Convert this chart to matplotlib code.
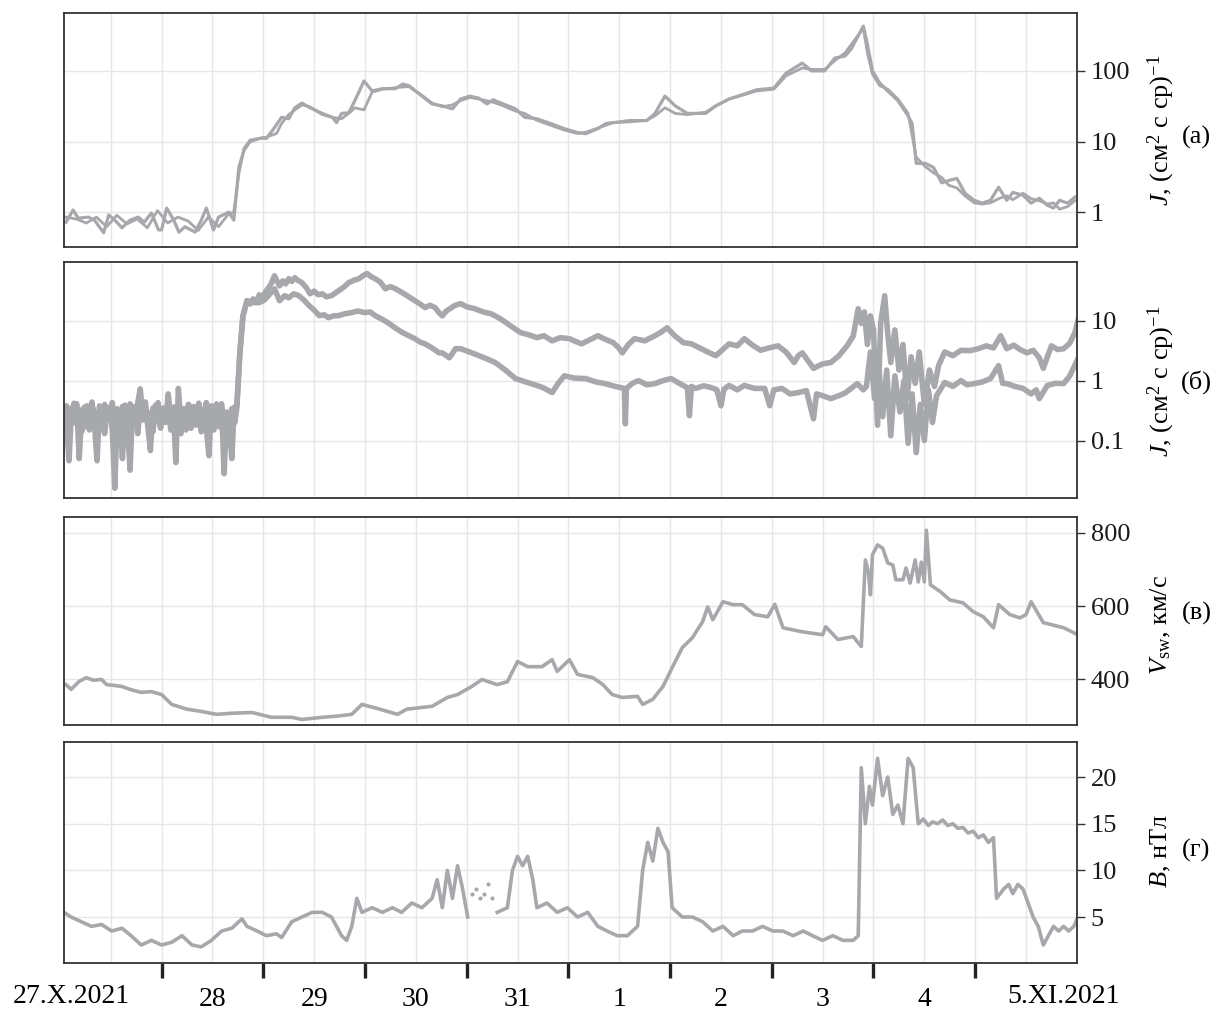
import numpy as np
import matplotlib
matplotlib.use("Agg")
import matplotlib.pyplot as plt
from matplotlib.ticker import FixedLocator, FixedFormatter, NullLocator

# time axis: days since 27.X.2021 00:00 UT

# (а) proton flux, two channels
A1_T = [0.06, 0.13, 0.18, 0.28, 0.34, 0.43, 0.48, 0.54, 0.61, 0.69, 0.77, 0.83, 0.90, 0.97, 1.00,
        1.05, 1.12, 1.17, 1.23, 1.33, 1.39, 1.44, 1.51, 1.56, 1.66, 1.71, 1.76, 1.81, 1.87, 1.99,
        2.03, 2.11, 2.18, 2.25, 2.31, 2.38, 2.46, 2.58, 2.68, 2.72, 2.77, 2.84, 2.90, 2.99, 3.07,
        3.17, 3.30, 3.37, 3.43, 3.56, 3.66, 3.76, 3.86, 3.94, 4.03, 4.12, 4.20, 4.26, 4.36, 4.48,
        4.57, 4.69, 4.80, 4.96, 5.09, 5.17, 5.29, 5.37, 5.44, 5.61, 5.77, 5.85, 5.95, 6.05, 6.17,
        6.35, 6.45, 6.58, 6.73, 6.85, 7.02, 7.14, 7.30, 7.39, 7.52, 7.62, 7.72, 7.78, 7.90, 7.94,
        7.99, 8.06, 8.14, 8.24, 8.34, 8.38, 8.42, 8.51, 8.59, 8.67, 8.74, 8.82, 8.90, 8.99, 9.07,
        9.15, 9.23, 9.31, 9.37, 9.47, 9.55, 9.63, 9.71, 9.77, 9.83, 9.91, 9.98]
A1_V = [0.72, 1.07, 0.82, 0.85, 0.77, 0.51, 0.91, 0.77, 0.60, 0.77, 0.85, 0.72, 0.97, 0.56, 0.56,
        1.14, 0.77, 0.52, 0.62, 0.52, 0.77, 1.14, 0.56, 0.85, 1.0, 0.77, 4.3, 7.5, 10, 11.3,
        11, 15.7, 22, 21, 30, 35, 30, 25, 22, 18.5, 25, 25.5, 37.8, 72, 52,
        56, 56, 65, 62, 44, 34, 32, 29, 40, 44, 41, 34, 39, 34, 29,
        22, 21, 18.5, 15.2, 13.4, 12.9, 15.2, 18, 18.5, 19.8, 19.8, 24.8, 44, 32, 25,
        25, 32, 40, 47, 54, 57, 93, 129, 100, 100, 152, 162, 203, 430, 240,
        100, 68, 52, 38, 23, 18, 4.9, 4.9, 4.3, 2.6, 2.8, 3.0, 1.85, 1.47, 1.34,
        1.47, 2.25, 1.47, 1.9, 1.74, 1.34, 1.57, 1.25, 1.14, 1.47, 1.34, 1.63]
A2_T = [0.06, 0.16, 0.26, 0.36, 0.46, 0.56, 0.66, 0.76, 0.86, 0.96, 1.06, 1.16, 1.26, 1.36, 1.46,
        1.56, 1.66, 1.71, 1.76, 1.81, 1.87, 2.03, 2.13, 2.18, 2.25, 2.31, 2.38, 2.46, 2.58, 2.68,
        2.77, 2.84, 2.90, 2.99, 3.07, 3.17, 3.30, 3.43, 3.56, 3.66, 3.76, 3.86, 3.94, 4.03, 4.12,
        4.26, 4.36, 4.48, 4.57, 4.69, 4.80, 4.96, 5.09, 5.17, 5.29, 5.44, 5.61, 5.77, 5.85, 5.95,
        6.05, 6.17, 6.35, 6.45, 6.58, 6.73, 6.85, 7.02, 7.14, 7.30, 7.39, 7.52, 7.62, 7.72, 7.90,
        7.94, 7.99, 8.06, 8.14, 8.24, 8.34, 8.42, 8.51, 8.59, 8.67, 8.74, 8.82, 8.90, 8.99, 9.07,
        9.15, 9.23, 9.31, 9.37, 9.47, 9.55, 9.63, 9.71, 9.77, 9.83, 9.91, 9.98]
A2_V = [0.85, 0.80, 0.70, 0.85, 0.62, 0.90, 0.68, 0.80, 0.60, 1.05, 0.70, 0.85, 0.75, 0.55, 0.85,
        0.62, 0.95, 1.0, 3.5, 8, 10.5, 11.5, 13, 18, 24, 28, 33, 31, 24, 22,
        21, 25, 30, 28, 50, 55, 58, 60, 45, 35, 31, 33, 38, 42, 40,
        36, 32, 27, 25, 20, 17.5, 14.5, 13, 13.5, 15.5, 18.5, 19, 20, 23, 30,
        25, 24, 26, 32, 40, 46, 52, 55, 85, 110, 105, 105, 140, 180, 400,
        180, 90, 62, 55, 40, 25, 6, 4.4, 3.6, 3.1, 2.4, 2.2, 1.7, 1.35, 1.3,
        1.35, 1.55, 1.7, 1.5, 1.85, 1.55, 1.45, 1.3, 1.35, 1.1, 1.2, 1.45]

# (б) flux, two channels; quiet interval sampled every QUIET_STEP days from QUIET_START
QUIET_START = 0.04
QUIET_STEP = 0.025
B_QUIET_HI = [0.32, 0.18, 0.046, 0.35, 0.20, 0.41, 0.05, 0.30, 0.17, 0.38, 0.22, 0.44, 0.19, 0.046,
              0.33, 0.16, 0.40, 0.24, 0.36, 0.15, 0.016, 0.34, 0.21, 0.05, 0.39, 0.18, 0.032, 0.37,
              0.20, 0.42, 0.73, 0.25, 0.38, 0.17, 0.068, 0.35, 0.22, 0.43, 0.16, 0.31, 0.20, 0.60,
              0.24, 0.36, 0.043, 0.74, 0.19, 0.34, 0.15, 0.40, 0.23, 0.37, 0.18, 0.42, 0.21, 0.33,
              0.16, 0.056, 0.38, 0.20, 0.41, 0.17, 0.35, 0.028, 0.30, 0.19, 0.05, 0.36]
B_QUIET_LO = [0.22, 0.38, 0.16, 0.27, 0.42, 0.19, 0.33, 0.14, 0.36, 0.24, 0.15, 0.40, 0.26, 0.17,
              0.38, 0.21, 0.13, 0.34, 0.23, 0.43, 0.18, 0.30, 0.14, 0.37, 0.25, 0.16, 0.41, 0.20,
              0.31, 0.13, 0.36, 0.22, 0.44, 0.18, 0.29, 0.14, 0.39, 0.24, 0.17, 0.35, 0.21, 0.42,
              0.15, 0.28, 0.37, 0.19, 0.13, 0.33, 0.24, 0.40, 0.16, 0.30, 0.21, 0.38, 0.14, 0.27,
              0.43, 0.20, 0.32, 0.15, 0.36, 0.23, 0.41, 0.18, 0.29, 0.14, 0.34, 0.25]
B_HI_T = [1.72, 1.74, 1.77, 1.80, 1.84, 1.87, 1.90, 1.93, 1.96, 1.99, 2.02, 2.05, 2.08, 2.11, 2.14,
          2.16, 2.19, 2.22, 2.25, 2.28, 2.31, 2.34, 2.38, 2.42, 2.46, 2.50, 2.54, 2.58, 2.62, 2.67,
          2.71, 2.74, 2.79, 2.84, 2.89, 2.94, 2.98, 3.02, 3.06, 3.10, 3.15, 3.20, 3.25, 3.30, 3.34,
          3.37, 3.43, 3.49, 3.54, 3.59, 3.64, 3.69, 3.72, 3.76, 3.80, 3.84, 3.88, 3.94, 4.00, 4.08,
          4.16, 4.24, 4.30, 4.36, 4.44, 4.53, 4.61, 4.69, 4.76, 4.84, 4.92, 5.01, 5.07, 5.13, 5.21,
          5.29, 5.36, 5.44, 5.49, 5.53, 5.59, 5.65, 5.75, 5.85, 5.91, 5.97, 6.05, 6.13, 6.21, 6.29,
          6.37, 6.45, 6.51, 6.58, 6.66, 6.73, 6.81, 6.89, 6.97, 7.06, 7.14, 7.22, 7.26, 7.30, 7.36,
          7.41, 7.50, 7.58, 7.66, 7.74, 7.80, 7.85,
          7.88, 7.91, 7.94, 7.97, 8.00, 8.04, 8.07, 8.11, 8.14, 8.17, 8.21, 8.25, 8.29, 8.33, 8.37,
          8.41, 8.45, 8.50, 8.55, 8.60, 8.64,
          8.70, 8.78, 8.86, 8.95, 9.03, 9.11, 9.18, 9.25, 9.31, 9.38, 9.44, 9.51, 9.57, 9.63, 9.67,
          9.71, 9.75, 9.81, 9.87, 9.93, 9.98, 10.01]
B_HI_V = [0.3, 0.4, 3, 12, 21.5, 19, 23, 20, 27, 24, 30, 35, 42, 56, 44,
          38, 46, 41, 50, 45, 52, 47, 43, 36, 28, 31, 27, 28, 25, 26,
          29, 31.6, 36, 43, 47, 50, 56, 61, 54, 50, 44, 34, 37, 34, 31,
          29, 25, 21.5, 19, 16.5, 18, 16.5, 14, 12, 14.5, 16, 17.8, 19.2, 17, 15.8,
          14, 13, 11.5, 10, 8, 6.3, 5.8, 5.2, 5.6, 4.6, 5.2, 5, 4.5, 4.1, 4.8,
          5.6, 4.9, 4.3, 3.6, 2.9, 4, 5, 4.6, 5.6, 6.4, 7.6, 5.5, 4.3, 4.1, 3.5,
          3.0, 2.6, 3.2, 4.1, 3.8, 5, 3.9, 3.2, 3.5, 3.8, 3.0, 2.0, 2.6, 2.9, 2.1,
          1.6, 1.9, 2.0, 2.6, 3.8, 5.5, 15.8,
          9, 14, 4, 12, 7, 0.18, 9, 26, 6, 2, 7, 1.5, 4, 0.5, 2.5,
          0.9, 3, 0.4, 1.5, 0.8, 1.78,
          3.0, 2.6, 3.2, 3.16, 3.4, 3.8, 3.5, 5.6, 3.4, 3.9, 3.3, 2.9, 3.2, 2.4, 1.6,
          2.5, 3.8, 3.3, 3.4, 4.2, 6.3, 10]
B_LO_T = [1.72, 1.74, 1.77, 1.80, 1.84, 1.90, 1.96, 2.01, 2.05, 2.11, 2.16, 2.21, 2.25, 2.30, 2.35,
          2.40, 2.45, 2.50, 2.55, 2.60, 2.64, 2.69, 2.74, 2.80, 2.87, 2.93, 3.00, 3.05, 3.10, 3.17,
          3.24, 3.30, 3.37, 3.43, 3.49, 3.54, 3.59, 3.66, 3.73, 3.76, 3.83, 3.89, 3.94, 4.03, 4.12,
          4.20, 4.28, 4.38, 4.48, 4.58, 4.69, 4.76, 4.84, 4.90, 4.96, 5.06, 5.17, 5.27, 5.36, 5.46,
          5.55, 5.56, 5.57, 5.63, 5.69, 5.77, 5.85, 5.93, 6.01, 6.09, 6.17, 6.19, 6.21, 6.25, 6.33,
          6.41, 6.46, 6.50, 6.53, 6.58, 6.66, 6.73, 6.83, 6.93, 6.98, 7.02, 7.10, 7.18, 7.26, 7.34,
          7.41, 7.44, 7.50, 7.58, 7.66, 7.72, 7.78, 7.84, 7.90,
          7.93, 7.97, 8.01, 8.05, 8.09, 8.13, 8.17, 8.21, 8.26, 8.30, 8.34, 8.38, 8.42, 8.46, 8.50,
          8.54, 8.58, 8.62,
          8.70, 8.78, 8.86, 8.92, 8.99, 9.07, 9.15, 9.23, 9.27, 9.31, 9.39, 9.47, 9.55, 9.60, 9.63,
          9.71, 9.79, 9.87, 9.93, 9.98, 10.01]
B_LO_V = [0.2, 0.35, 3, 12, 21.5, 20, 20, 22, 26, 34, 21.5, 26, 24, 28, 26,
          22, 17.8, 15, 12.1, 12.5, 11.2, 12, 12.1, 13, 13.6, 14.5, 13.6, 14, 12.1, 10.5,
          8.9, 7.5, 6.3, 5.6, 5, 4.4, 4.1, 3.5, 2.9, 2.9, 2.4, 3.4, 3.4, 3.0, 2.6,
          2.3, 2.0, 1.5, 1.08, 0.95, 0.83, 0.75, 0.63, 0.9, 1.2, 1.1, 1.08, 0.95, 0.89, 0.8,
          0.74, 0.19, 0.74, 0.9, 1.0, 0.85, 0.89, 1.0, 1.08, 0.9, 0.76, 0.26, 0.8, 0.74, 0.82,
          0.76, 0.7, 0.38, 0.72, 0.83, 0.7, 0.83, 0.74, 0.74, 0.38, 0.7, 0.74, 0.6, 0.63, 0.68,
          0.23, 0.6, 0.56, 0.5, 0.56, 0.62, 0.74, 0.89, 0.7,
          0.8, 3, 0.5, 2, 0.25, 1.5, 0.12, 1.2, 0.3, 1, 0.09, 0.6, 0.063, 0.4, 0.1,
          0.7, 0.2, 0.56,
          0.93, 0.8, 1.0, 0.85, 0.89, 0.95, 1.08, 1.78, 0.9, 0.89, 0.8, 0.74, 0.6, 0.7, 0.5,
          0.83, 0.9, 0.89, 1.2, 1.8, 2.3]

# (в) solar wind speed, km/s
C_T = [0.06, 0.11, 0.19, 0.26, 0.33, 0.41, 0.46, 0.53, 0.61, 0.70, 0.80, 0.90, 1.00, 1.10, 1.25,
       1.39, 1.54, 1.69, 1.89, 2.08, 2.28, 2.38, 2.58, 2.72, 2.87, 2.97, 3.12, 3.32, 3.41, 3.66,
       3.81, 3.91, 4.05, 4.15, 4.30, 4.40, 4.50, 4.60, 4.74, 4.84, 4.89, 5.01, 5.09, 5.24, 5.34,
       5.43, 5.53, 5.68, 5.73, 5.83, 5.93, 6.02, 6.12, 6.22, 6.32, 6.37, 6.42, 6.52, 6.62, 6.71,
       6.83, 6.96, 7.03, 7.11, 7.30, 7.50, 7.53, 7.65, 7.80, 7.88, 7.92, 7.95, 7.97, 7.99, 8.04,
       8.09, 8.14, 8.19, 8.22, 8.29, 8.32, 8.36, 8.41, 8.44, 8.47, 8.50, 8.52, 8.56, 8.66, 8.75,
       8.88, 8.98, 9.08, 9.18, 9.23, 9.34, 9.44, 9.50, 9.55, 9.67, 9.87, 10.01]
C_V = [386, 373, 395, 405, 398, 400, 386, 384, 381, 372, 365, 367, 359, 332, 319,
       313, 305, 308, 310, 297, 297, 291, 297, 300, 305, 332, 321, 305, 319, 327,
       351, 359, 381, 400, 386, 394, 449, 435, 435, 454, 422, 454, 414, 405, 386,
       359, 351, 354, 332, 346, 381, 432, 487, 514, 558, 598, 563, 612, 604, 604,
       577, 571, 605, 541, 530, 522, 544, 509, 517, 490, 726, 693, 631, 740, 767,
       758, 718, 712, 672, 672, 704, 663, 726, 666, 720, 666, 807, 658, 639, 617,
       609, 585, 571, 541, 604, 577, 568, 577, 612, 555, 541, 522]

# (г) magnetic field, nT (nan = data gap)
D_T = [0.04, 0.11, 0.21, 0.31, 0.41, 0.51, 0.61, 0.70, 0.80, 0.90, 1.00, 1.10, 1.20, 1.30, 1.39,
       1.49, 1.59, 1.69, 1.79, 1.84, 1.94, 2.03, 2.13, 2.18, 2.28, 2.38, 2.48, 2.58, 2.67, 2.77,
       2.82, 2.87, 2.92, 2.97, 3.07, 3.17, 3.27, 3.36, 3.46, 3.56, 3.66, 3.71, 3.76, 3.81, 3.86,
       3.91, 3.96, 4.01, 4.15, 4.30, 4.40, 4.45, 4.50, 4.55, 4.60, 4.65, 4.69, 4.79, 4.89, 4.99,
       5.09, 5.19, 5.29, 5.38, 5.48, 5.58, 5.68, 5.73, 5.78, 5.83, 5.88, 5.93, 5.98, 6.02, 6.12,
       6.22, 6.32, 6.42, 6.52, 6.62, 6.71, 6.81, 6.91, 7.01, 7.11, 7.21, 7.31, 7.40, 7.50, 7.60,
       7.70, 7.80, 7.85, 7.88, 7.92, 7.96, 7.99, 8.04, 8.09, 8.14, 8.19, 8.24, 8.29, 8.34, 8.39,
       8.44, 8.49, 8.54, 8.58, 8.63, 8.68, 8.73, 8.78, 8.83, 8.88, 8.93, 8.98, 9.03, 9.08, 9.13,
       9.18, 9.21, 9.28, 9.33, 9.37, 9.42, 9.47, 9.52, 9.57, 9.62, 9.67, 9.72, 9.77, 9.82, 9.87,
       9.92, 9.97, 10.01]
D_V = [5.5, 5, 4.5, 4, 4.2, 3.5, 3.8, 3, 2, 2.5, 2, 2.3, 3, 2, 1.8,
       2.5, 3.5, 3.8, 4.8, 4, 3.5, 3, 3.2, 2.8, 4.5, 5, 5.5, 5.5, 5, 3,
       2.5, 4, 7, 5.5, 6, 5.5, 6, 5.5, 6.5, 6, 7, 9, 6, 10, 7,
       10.5, 8, 5, np.nan, 5.5, 6, 10, 11.5, 10.5, 11.5, 9, 6, 6.5, 5.5, 6,
       5, 5.5, 4, 3.5, 3, 3, 4, 10, 13, 11, 14.5, 13, 12, 6, 5,
       5, 4.5, 3.5, 4, 3, 3.5, 3.5, 4, 3.5, 3.5, 3, 3.5, 3, 2.5, 3,
       2.5, 2.5, 3, 21, 15, 19, 17, 22, 18, 20, 16, 17, 15, 22, 21,
       15, 15.5, 14.8, 15.2, 15, 15.4, 14.8, 15, 14.5, 14.6, 14, 14.2, 13.5, 13.8, 13,
       13.5, 7, 8, 8.5, 7.5, 8.5, 8, 6.5, 5, 4, 2, 3, 4, 3.5, 4,
       3.5, 4, 5]
D_GAP_T = [4.05, 4.09, 4.13, 4.17, 4.21, 4.25]
D_GAP_V = [7.5, 8, 7, 7.5, 8.5, 7]

DAY_LABELS = ["28", "29", "30", "31", "1", "2", "3", "4"]

plt.rcParams.update({
    "font.family": ["Liberation Serif", "DejaVu Serif"],
    "font.size": 19,
    "mathtext.fontset": "custom",
    "mathtext.rm": "Liberation Serif",
    "mathtext.it": "Liberation Serif:italic",
})

LINE = "#a6a8ab"
GRID = "#e6e6e6"
SPINE = "#333333"
MIDNIGHTS = np.arange(1, 10)
NOONS = np.arange(0.5, 10, 1.0)


def style_panel(ax, ylim, yticks, ylabels, log=False):
    if log:
        ax.set_yscale("log")
    ax.set_xlim(0.04, 10.0)
    ax.set_ylim(*ylim)
    ax.yaxis.set_major_locator(FixedLocator(yticks))
    ax.yaxis.set_major_formatter(FixedFormatter(ylabels))
    ax.yaxis.set_minor_locator(NullLocator())
    ax.yaxis.tick_right()
    ax.tick_params(axis="y", which="major", direction="out", length=6,
                   width=1, pad=4, colors=SPINE, labelcolor="#1a1a1a")
    ax.xaxis.set_major_locator(FixedLocator(MIDNIGHTS))
    ax.xaxis.set_minor_locator(FixedLocator(NOONS))
    ax.tick_params(axis="x", which="both", length=0, labelbottom=False)
    ax.grid(True, which="both", axis="x", color=GRID, lw=1)
    ax.grid(True, which="major", axis="y", color=GRID, lw=1)
    ax.set_axisbelow(True)
    for s in ax.spines.values():
        s.set_color(SPINE)
        s.set_linewidth(1.3)


fig = plt.figure(figsize=(12.16, 10.10), dpi=100)
left, width = 0.0526, 0.833
ax_a = fig.add_axes([left, 0.7554, width, 0.2317])
ax_b = fig.add_axes([left, 0.5069, width, 0.2337])
ax_c = fig.add_axes([left, 0.2822, width, 0.2059])
ax_d = fig.add_axes([left, 0.0465, width, 0.2188])

# (а)
ax_a.plot(A2_T, A2_V, color=LINE, lw=2.0)
ax_a.plot(A1_T, A1_V, color=LINE, lw=2.3)
style_panel(ax_a, (0.32, 660), [1, 10, 100], ["1", "10", "100"], log=True)

# (б)
q_hi_t = QUIET_START + QUIET_STEP * np.arange(len(B_QUIET_HI))
q_lo_t = QUIET_START + QUIET_STEP * np.arange(len(B_QUIET_LO))
ax_b.plot(np.concatenate([q_lo_t, B_LO_T]), np.concatenate([B_QUIET_LO, B_LO_V]),
          color=LINE, lw=4.0)
ax_b.plot(np.concatenate([q_hi_t, B_HI_T]), np.concatenate([B_QUIET_HI, B_HI_V]),
          color=LINE, lw=4.0)
style_panel(ax_b, (0.011, 95), [0.1, 1, 10], ["0.1", "1", "10"], log=True)

# (в)
ax_c.plot(C_T, C_V, color=LINE, lw=2.6)
style_panel(ax_c, (276, 843), [400, 600, 800], ["400", "600", "800"])

# (г)
ax_d.plot(D_T, D_V, color=LINE, lw=2.6)
ax_d.plot(D_GAP_T, D_GAP_V, ls="none", marker="o", ms=2, color=LINE)
style_panel(ax_d, (0.07, 23.75), [5, 10, 15, 20], ["5", "10", "15", "20"])

# date axis at the bottom
ax_d.xaxis.set_minor_formatter(FixedFormatter([""] + DAY_LABELS + [""]))
ax_d.tick_params(axis="x", which="major", direction="out", length=11, width=2.4,
                 color="#222222")
ax_d.tick_params(axis="x", which="minor", length=0, labelbottom=True, pad=17,
                 labelsize=20)
tr = ax_d.get_xaxis_transform()
ax_d.text(0.11, -0.15, "27.X.2021", transform=tr, ha="center", va="center",
          fontsize=20, clip_on=False)
ax_d.text(9.87, -0.15, "5.XI.2021", transform=tr, ha="center", va="center",
          fontsize=20, clip_on=False)

# right-hand labels
flux_label = r"$J$, (см$^2$ с ср)$^{-1}$"
fig.text(0.955, 0.871, flux_label, rotation=90, ha="center", va="center")
fig.text(0.955, 0.623, flux_label, rotation=90, ha="center", va="center")
fig.text(0.955, 0.381, r"$V_{\rm sw}$, км/с", rotation=90, ha="center", va="center")
fig.text(0.955, 0.157, r"$B$, нТл", rotation=90, ha="center", va="center")
fig.text(0.984, 0.864, "(а)", ha="center", va="center")
fig.text(0.984, 0.622, "(б)", ha="center", va="center")
fig.text(0.984, 0.393, "(в)", ha="center", va="center")
fig.text(0.984, 0.158, "(г)", ha="center", va="center")

fig.savefig("out.png", dpi=100)
